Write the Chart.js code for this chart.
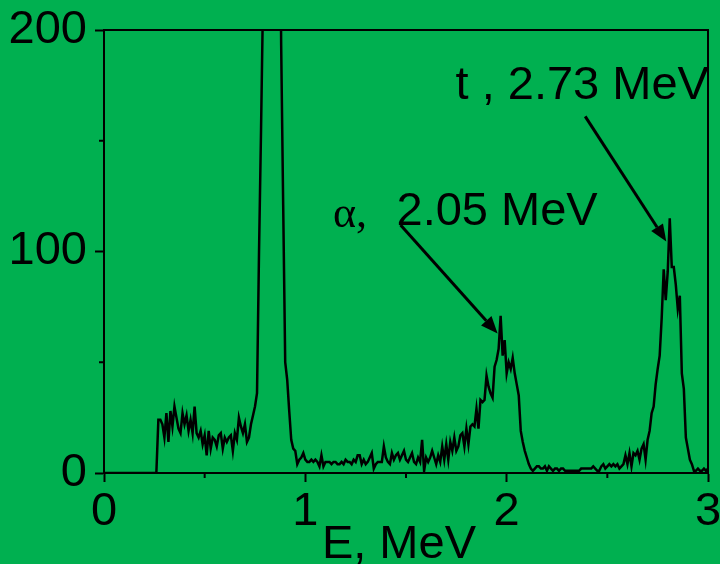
<!DOCTYPE html>
<html>
<head>
<meta charset="utf-8">
<script src="https://cdn.jsdelivr.net/npm/chart.js@4.4.1/dist/chart.umd.min.js"></script>
<style>
  html, body { margin: 0; padding: 0; background: #00b050; }
  #spectrum { display: block; }
</style>
</head>
<body>
<canvas id="spectrum" width="720" height="564"></canvas>
<script>
// energy bins, MeV (0.00 .. 3.00, 0.01 wide)
const binWidth = 0.01;

// counts per bin, ten bins per row
const counts = [
  0, 0, 0, 0, 0, 0, 0, 0, 0, 0,             // 0.00
  0, 0, 0, 0, 0, 0, 0, 0, 0, 0,             // 0.10
  0, 0, 0, 0, 0, 0, 0, 24, 24, 22,          // 0.20
  16, 27, 14, 28, 21, 30, 25, 20, 18, 27,   // 0.30
  22, 26, 19, 24, 18, 30, 18, 16, 19, 13,   // 0.40
  17, 8, 19, 11, 16, 15, 12, 17, 18, 11,    // 0.50
  16, 14, 16, 17, 10, 18, 15, 25, 21, 18,   // 0.60
  22, 14, 16, 22, 26, 30, 36, 100, 155, 215,        // 0.70
  430, 760, 980, 1040, 900, 680, 480, 300, 193, 121, // 0.80
  50, 42, 28, 15, 11, 10, 4, 6, 7, 9,       // 0.90
  6, 5, 5, 6, 5, 6, 5, 3, 8, 3,             // 1.00
  5, 5, 5, 4, 5, 5, 4, 4, 5, 4,             // 1.10
  6, 5, 5, 4, 6, 5, 8, 8, 4, 6,             // 1.20
  4, 5, 7, 9, 2, 4, 5, 5, 5, 12,            // 1.30
  7, 5, 4, 9, 6, 8, 9, 6, 8, 10,            // 1.40
  6, 5, 7, 9, 5, 4, 7, 5, 15, 1,            // 1.50
  7, 5, 7, 10, 7, 4, 8, 5, 12, 6,           // 1.60
  13, 6, 14, 10, 16, 10, 12, 17, 18, 12,    // 1.70
  20, 13, 21, 22, 21, 29, 20, 33, 32, 33,   // 1.80
  44, 39, 36, 34, 48, 51, 56, 71, 53, 60,   // 1.90
  45, 50, 47, 52, 45, 40, 35, 19, 14, 10,   // 2.00
  7, 4, 2, 1, 2, 3, 3, 2, 2, 3,             // 2.10
  1, 3, 2, 1, 2, 2, 1, 2, 2, 1,             // 2.20
  1, 1, 1, 1, 1, 1, 1, 2, 2, 2,             // 2.30
  2, 2, 2, 3, 2, 1, 1, 3, 4, 2,             // 2.40
  3, 4, 3, 4, 3, 4, 2, 3, 4, 8,             // 2.50
  4, 9, 3, 9, 8, 10, 6, 11, 13, 6,          // 2.60
  15, 19, 27, 30, 40, 47, 53, 70, 92, 78,   // 2.70
  91, 115, 93, 93, 85, 74, 80, 45, 38, 16,  // 2.80
  11, 6, 4, 1, 1, 2, 1, 1, 2, 1,            // 2.90
  2                                         // 3.00
];

const xTickLabels = [0, 1, 2, 3];
const yTickLabels = [0, 100, 200];
const xMinorTicks = [0.5, 1.5, 2.5];
const yMinorTicks = [50, 150];

// peak labels: text, where the text sits and where the arrow points (MeV, counts)
const peakNotes = [
  { prefix: 'α,', text: '2.05 MeV', prefixAt: [1.137, 111], textAt: [1.453, 112], from: [1.473, 112], to: [1.955, 63] },
  { prefix: '', text: 't , 2.73 MeV', textAt: [1.746, 168.8], from: [2.39, 161], to: [2.793, 104.5] }
];

const sansFont = '"Liberation Sans", Arial, sans-serif';
const serifFont = '"Liberation Serif", "Times New Roman", serif';

const points = counts.map((c, i) => ({ x: +(i * binWidth).toFixed(2), y: c }));

// box round the plot, short minor ticks, energy axis name
const framePlugin = {
  id: 'frame',
  afterDraw(chart) {
    const { ctx, chartArea: a, scales: { x, y } } = chart;
    ctx.save();
    ctx.strokeStyle = '#000';
    ctx.lineWidth = 2;
    ctx.beginPath();
    ctx.moveTo(a.left, a.top);
    ctx.lineTo(a.right, a.top);
    ctx.lineTo(a.right, a.bottom);
    xMinorTicks.forEach(v => {
      const px = x.getPixelForValue(v);
      ctx.moveTo(px, a.bottom);
      ctx.lineTo(px, a.bottom + 5);
    });
    yMinorTicks.forEach(v => {
      const py = y.getPixelForValue(v);
      ctx.moveTo(a.left, py);
      ctx.lineTo(a.left - 5, py);
    });
    ctx.stroke();

    ctx.fillStyle = '#000';
    ctx.font = '47px ' + sansFont;
    ctx.textAlign = 'center';
    ctx.textBaseline = 'alphabetic';
    ctx.fillText('E, MeV', x.getPixelForValue(1.465), chart.height - 6);
    ctx.restore();
  }
};

function drawArrow(ctx, x0, y0, x1, y1) {
  const ang = Math.atan2(y1 - y0, x1 - x0);
  const len = 17, half = 7;
  const bx = x1 - len * Math.cos(ang), by = y1 - len * Math.sin(ang);
  ctx.beginPath();
  ctx.moveTo(x0, y0);
  ctx.lineTo(bx, by);
  ctx.stroke();
  ctx.beginPath();
  ctx.moveTo(x1, y1);
  ctx.lineTo(bx + half * Math.sin(ang), by - half * Math.cos(ang));
  ctx.lineTo(bx - half * Math.sin(ang), by + half * Math.cos(ang));
  ctx.closePath();
  ctx.fill();
}

const notesPlugin = {
  id: 'peakNotes',
  afterDraw(chart) {
    const { ctx, scales: { x, y } } = chart;
    ctx.save();
    ctx.fillStyle = '#000';
    ctx.strokeStyle = '#000';
    ctx.lineWidth = 3;
    ctx.textBaseline = 'alphabetic';
    ctx.textAlign = 'left';
    peakNotes.forEach(n => {
      if (n.prefix) {
        ctx.font = '44px ' + serifFont;
        ctx.fillText(n.prefix, x.getPixelForValue(n.prefixAt[0]), y.getPixelForValue(n.prefixAt[1]));
      }
      ctx.font = '47px ' + sansFont;
      ctx.fillText(n.text, x.getPixelForValue(n.textAt[0]), y.getPixelForValue(n.textAt[1]));
      drawArrow(ctx,
        x.getPixelForValue(n.from[0]), y.getPixelForValue(n.from[1]),
        x.getPixelForValue(n.to[0]), y.getPixelForValue(n.to[1]));
    });
    ctx.restore();
  }
};

const ctx = document.getElementById('spectrum').getContext('2d');

new Chart(ctx, {
  type: 'line',
  data: {
    datasets: [{
      data: points,
      borderColor: '#000',
      borderWidth: 2.5,
      pointRadius: 0,
      tension: 0,
      fill: false
    }]
  },
  options: {
    responsive: false,
    animation: false,
    events: [],
    layout: { padding: { left: 0, right: 12, top: 30, bottom: 0 } },
    plugins: { legend: { display: false }, tooltip: { enabled: false } },
    scales: {
      x: {
        type: 'linear',
        min: 0,
        max: 3,
        afterFit(s) { s.height = 91; s.paddingLeft = 0; s.paddingRight = 0; },
        afterBuildTicks(s) { s.ticks = xTickLabels.map(v => ({ value: v })); },
        ticks: {
          color: '#000',
          padding: 2,
          maxRotation: 0,
          autoSkip: false,
          font: { family: sansFont, size: 47 }
        },
        grid: { drawOnChartArea: false, tickLength: 9, tickWidth: 2, tickColor: '#000' },
        border: { color: '#000', width: 2 }
      },
      y: {
        min: 0,
        max: 200,
        afterFit(s) { s.width = 104; s.paddingTop = 0; s.paddingBottom = 0; },
        afterBuildTicks(s) { s.ticks = yTickLabels.map(v => ({ value: v })); },
        ticks: {
          color: '#000',
          padding: 8,
          font: { family: sansFont, size: 47 }
        },
        grid: { drawOnChartArea: false, tickLength: 9, tickWidth: 2, tickColor: '#000' },
        border: { color: '#000', width: 2 }
      }
    }
  },
  plugins: [framePlugin, notesPlugin]
});
</script>
</body>
</html>
